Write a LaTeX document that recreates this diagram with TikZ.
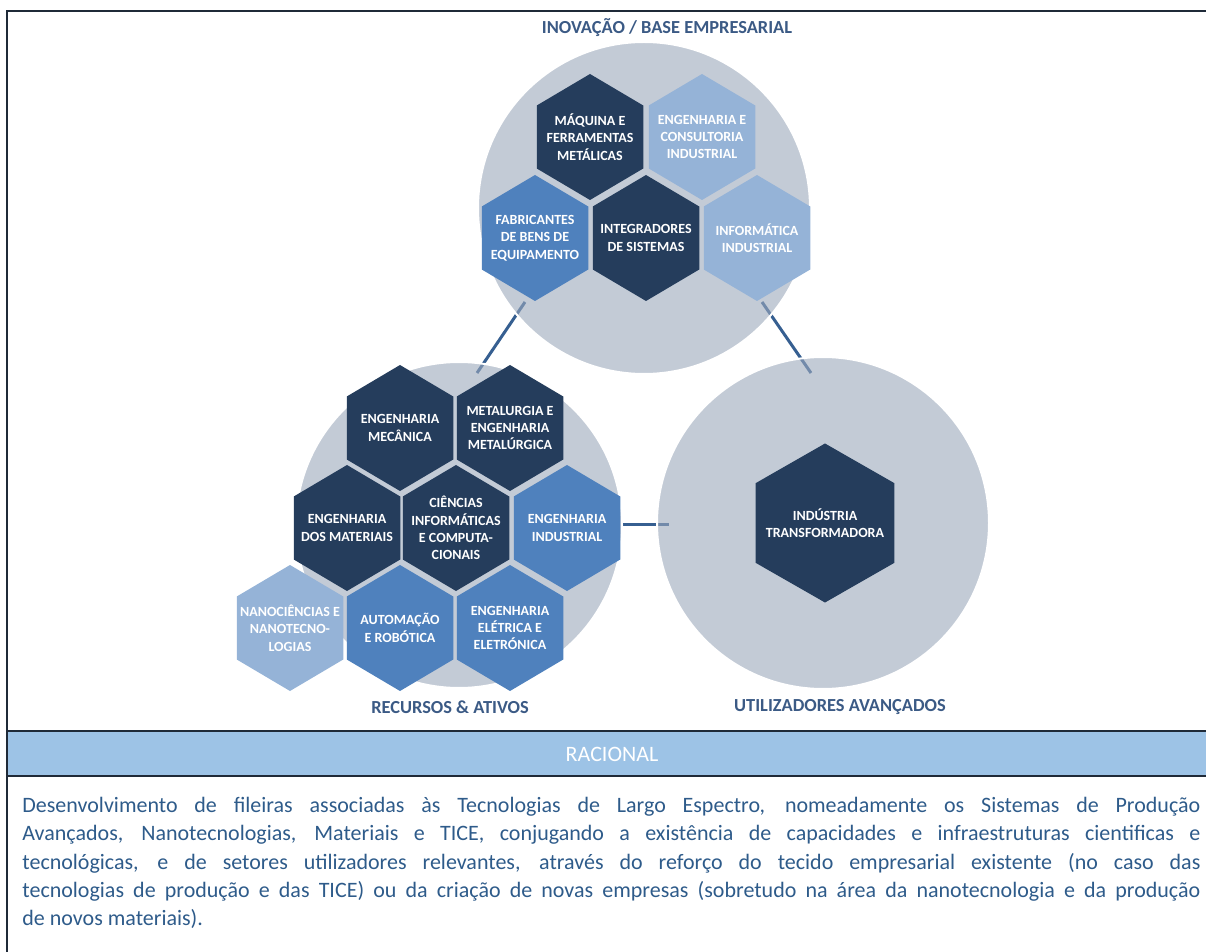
\documentclass[tikz,border=0pt]{standalone}
\usepackage{fontspec}
\setmainfont{Carlito}
\usetikzlibrary{
    shapes.geometric,
    positioning
}

\definecolor{hexdark}{HTML}{253D5C}
\definecolor{hexmid}{HTML}{4F81BD}
\definecolor{hexlight}{HTML}{95B3D7}
\definecolor{bubblefill}{RGB}{155,168,187}
\definecolor{linkblue}{HTML}{365F91}
\definecolor{headblue}{HTML}{3B5A85}
\definecolor{bodyblue}{HTML}{2E5B8A}
\definecolor{bandblue}{HTML}{9DC3E6}
\definecolor{framedark}{HTML}{1F2A38}

\tikzset{
    hextext/.style={inner sep=0pt, text=white, align=center,
        font=\bfseries\fontsize{7}{8.7}\selectfont},
    bigcell/.style={xscale=1.305, yscale=1.262},
    bubble/.style={circle, fill=bubblefill, fill opacity=0.6, draw=white, line width=1pt},
    link/.style={linkblue, line width=1.5pt},
    head/.style={text=headblue, font=\bfseries\fontsize{9.2}{11}\selectfont},
    frame/.style={framedark, line width=1pt}
}

% name, centre, fill style, text
\newcommand{\hexcell}[4]{%
    \fill[shift={(#2)}, #3] (0,-63) -- (53.25,-31.5) -- (53.25,31.5) -- (0,63)
        -- (-53.25,31.5) -- (-53.25,-31.5) -- cycle;
    \node[hextext] (#1) at (#2) {#4};}

\begin{document}
\begin{tikzpicture}[x=0.5pt,y=-0.5pt]
    \useasboundingbox (0,0) rectangle (1206,952);

    \coordinate (a1) at (525,302);
    \coordinate (a2) at (477,373);
    \coordinate (b1) at (762,302);
    \coordinate (b2) at (811,373);
    \coordinate (c1) at (622,524);
    \coordinate (c2) at (669,524);
    \draw[link] (a1) -- (a2);
    \draw[link] (b1) -- (b2);
    \draw[link] (c1) -- (c2);

    \node[bubble, minimum size=166pt] (inov) at (644,208) {};
    \node[bubble, minimum size=163pt] (recur) at (459,525) {};
    \node[bubble, minimum size=166pt] (util) at (823,523) {};

    \hexcell{maq}{590,137}{hexdark}{MÁQUINA E\\FERRAMENTAS\\METÁLICAS}
    \hexcell{cons}{702,137}{hexlight}{ENGENHARIA E\\CONSULTORIA\\INDUSTRIAL}
    \hexcell{fab}{535,238}{hexmid}{FABRICANTES\\DE BENS DE\\EQUIPAMENTO}
    \hexcell{integ}{646,238}{hexdark}{INTEGRADORES\\DE SISTEMAS}
    \hexcell{infind}{757,238}{hexlight}{INFORMÁTICA\\INDUSTRIAL}

    \hexcell{engmec}{400,428}{hexdark}{ENGENHARIA\\MECÂNICA}
    \hexcell{metal}{510,428}{hexdark}{METALURGIA E\\ENGENHARIA\\METALÚRGICA}
    \hexcell{engmat}{347,528}{hexdark}{ENGENHARIA\\DOS MATERIAIS}
    \hexcell{cienc}{456,528}{hexdark}{CIÊNCIAS\\INFORMÁTICAS\\E COMPUTA-\\CIONAIS}
    \hexcell{engind}{567,528}{hexmid}{ENGENHARIA\\INDUSTRIAL}
    \hexcell{nano}{290,628}{hexlight}{NANOCIÊNCIAS E\\NANOTECNO-\\LOGIAS}
    \hexcell{autom}{400,628}{hexmid}{AUTOMAÇÃO\\E ROBÓTICA}
    \hexcell{engele}{510,628}{hexmid}{ENGENHARIA\\ELÉTRICA E\\ELETRÓNICA}

    \hexcell{indtr}{825,523}{hexdark, bigcell}{INDÚSTRIA\\TRANSFORMADORA}

    \node[head] (tinov) at (667,28) {INOVAÇÃO / BASE EMPRESARIAL};
    \node[head] (trec) at (450,707) {RECURSOS \& ATIVOS};
    \node[head] (tutil) at (840,707) {UTILIZADORES AVANÇADOS};

    \fill[bandblue] (7,731) rectangle (1206,776);
    \draw[frame] (7,952) -- (7,11) -- (1206,11);
    \draw[frame] (7,731) -- (1206,731);
    \draw[frame] (7,776) -- (1206,776);
    \node[text=white, font=\fontsize{11}{13}\selectfont] (racio) at (612,754) {RACIONAL};

    \node[anchor=north west, inner sep=0pt, text width=589pt, align=justify,
        text=bodyblue, font=\fontsize{11}{14.15}\selectfont] (body) at (22,797)
        {\tolerance=10000\hyphenpenalty=10000
        Desenvolvimento de fileiras associadas às Tecnologias de Largo Espectro, nomeadamente os Sistemas de Produção\linebreak
        Avançados, Nanotecnologias, Materiais e TICE, conjugando a existência de capacidades e infraestruturas cientificas e\linebreak
        tecnológicas, e de setores utilizadores relevantes, através do reforço do tecido empresarial existente (no caso das\linebreak
        tecnologias de produção e das TICE) ou da criação de novas empresas (sobretudo na área da nanotecnologia e da produção\linebreak
        de novos materiais).};
\end{tikzpicture}
\end{document}
